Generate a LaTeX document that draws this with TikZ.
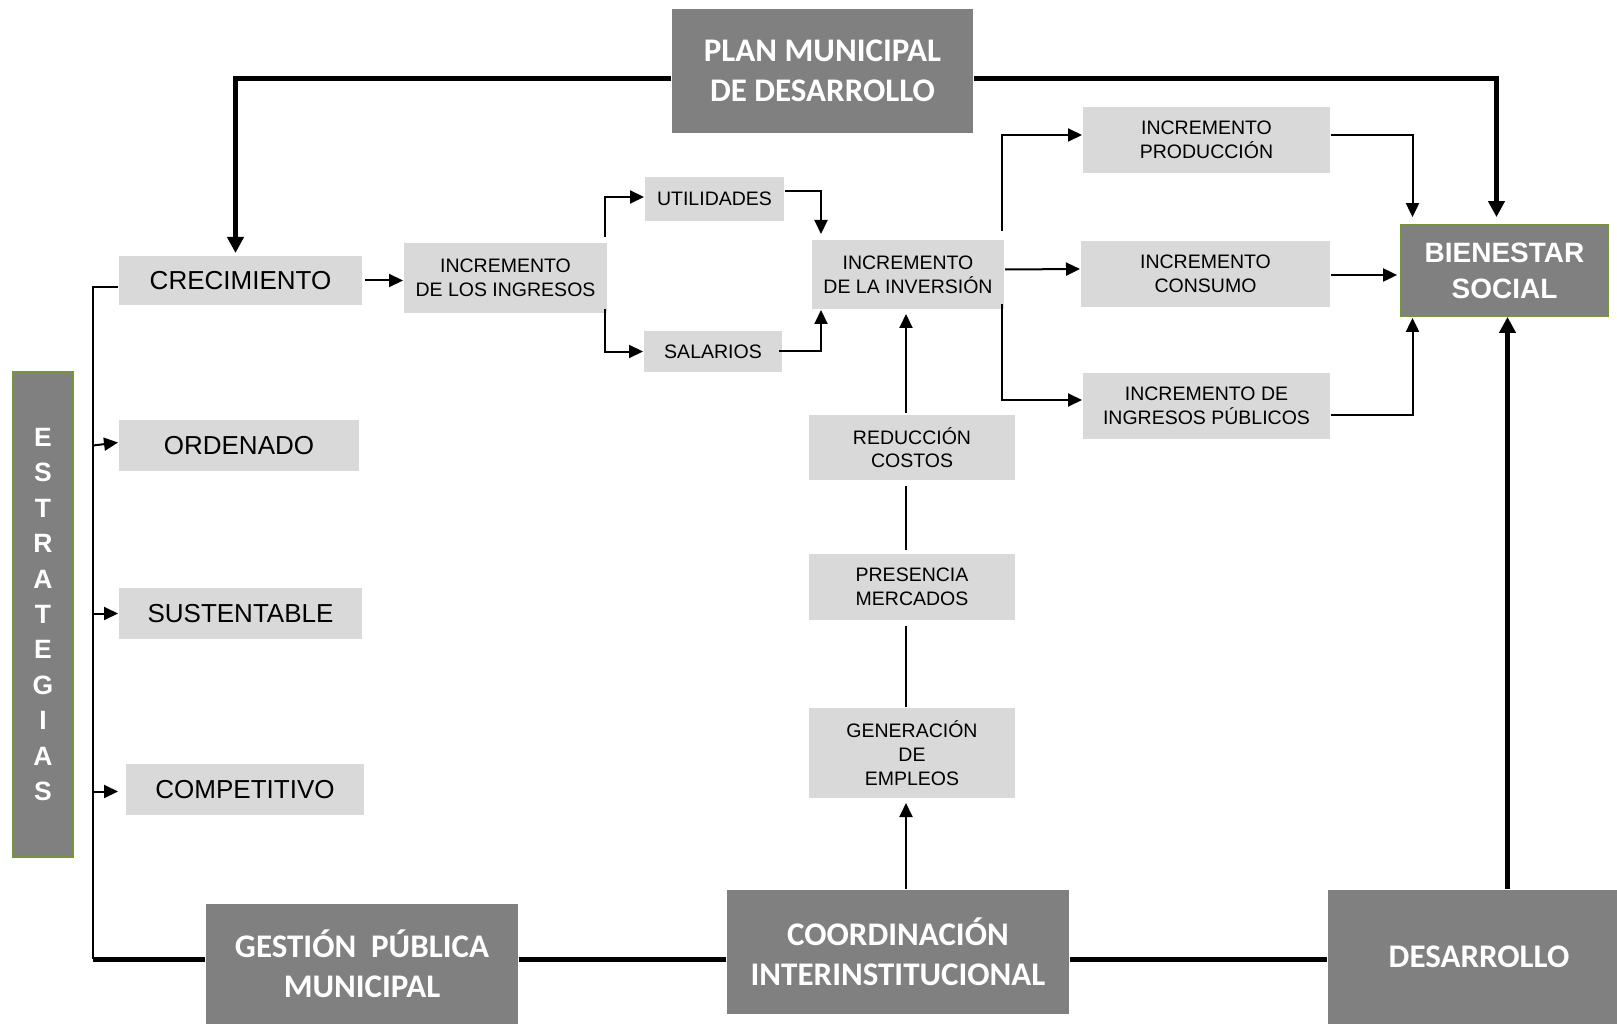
\documentclass[tikz,border=0pt]{standalone}
\usepackage{fontspec}
\setmainfont{Liberation Sans}
\newfontfamily\calibfont{Carlito}
\usepackage{xcolor}
\usepackage{tikz}
\usetikzlibrary{arrows.meta}
\usetikzlibrary{calc}
\usetikzlibrary{positioning}

\definecolor{boxgray}{HTML}{D9D9D9}
\definecolor{darkbox}{HTML}{808080}
\definecolor{olivegr}{HTML}{77933C}

\begin{document}
\begin{tikzpicture}[x=1pt,y=-1pt,>={Triangle[length=14pt,width=13pt]},line width=2pt]
 				 \tikzstyle{bigbox}=[fill=boxgray, inner sep=0pt, align=center, font=\fontsize{26}{31}\selectfont]
 				 \tikzstyle{smallbox}=[fill=boxgray, inner sep=0pt, align=center, font=\fontsize{19.5}{23.7}\selectfont]
 				 \tikzstyle{darkbox}=[fill=darkbox, inner sep=0pt, align=center, text=white, font=\calibfont\bfseries\fontsize{33}{40.5}\selectfont]
 				 \tikzstyle{greenbox}=[fill=darkbox, draw=olivegr, line width=1.8pt, inner sep=0pt, align=center, text=white]
 				 \tikzstyle{heavy}=[line width=5pt]
 				 \tikzstyle{heavyarr}=[line width=5pt, -{Triangle[length=16pt,width=16pt]}]
 					 \fill[white] (0,0) rectangle (1617,1024);
 					 \useasboundingbox (0,0) rectangle (1617,1024);
 					 % upper row
 					 \node[darkbox, minimum width=301pt, minimum height=124pt] (plan) at (822.5,71) {PLAN MUNICIPAL\\DE DESARROLLO};
 					 \node[bigbox, minimum width=243pt, minimum height=49pt] (crec) at (240.5,280.5) {CRECIMIENTO};
 					 \node[bigbox, minimum width=240pt, minimum height=51pt] (orden) at (239,445.5) {ORDENADO};
 					 \node[bigbox, minimum width=243pt, minimum height=51pt] (sust) at (240.5,613.5) {SUSTENTABLE};
 					 \node[bigbox, minimum width=238pt, minimum height=51pt] (comp) at (245,789.5) {COMPETITIVO};
 					 \node[smallbox, minimum width=203pt, minimum height=70pt] (ing) at (505.5,278) {INCREMENTO\\DE LOS INGRESOS};
 					 \node[smallbox, minimum width=139pt, minimum height=44pt] (util) at (714.5,199) {UTILIDADES};
 					 \node[smallbox, minimum width=138pt, minimum height=41pt] (sal) at (713,351.5) {SALARIOS};
 					 \node[smallbox, minimum width=192pt, minimum height=69pt] (inv) at (908,274.5) {INCREMENTO\\DE LA INVERSIÓN};
 					 \node[smallbox, minimum width=247pt, minimum height=66pt] (prod) at (1206.5,140) {INCREMENTO\\PRODUCCIÓN};
 					 \node[smallbox, minimum width=249pt, minimum height=66pt] (cons) at (1205.5,274) {INCREMENTO\\CONSUMO};
 					 \node[smallbox, minimum width=247pt, minimum height=66pt] (pub) at (1206.5,406) {INCREMENTO DE\\INGRESOS PÚBLICOS};
 					 \node[greenbox, minimum width=207pt, minimum height=91pt, font=\bfseries\fontsize{28}{36}\selectfont] (bien) at (1504.5,270.5) {BIENESTAR\\SOCIAL};
 					 % central column
 					 \node[smallbox, minimum width=206pt, minimum height=65pt] (red) at (912,447.5) {REDUCCIÓN\\COSTOS};
 					 \node[smallbox, minimum width=206pt, minimum height=66pt] (pres) at (912,587) {PRESENCIA\\MERCADOS};
 					 \node[smallbox, minimum width=206pt, minimum height=90pt] (gen) at (912,753) {GENERACIÓN\\DE\\EMPLEOS};
 					 \node[greenbox, minimum width=60pt, minimum height=485pt, font=\bfseries\fontsize{26.5}{35.4}\selectfont] (estr) at (43,614.5) {E\\S\\T\\R\\A\\T\\E\\G\\I\\A\\S};
 					 % lower row
 					 \node[darkbox, minimum width=312pt, minimum height=120pt] (gest) at (362,964) {GESTIÓN~ PÚBLICA\\MUNICIPAL};
 					 \node[darkbox, minimum width=342pt, minimum height=124pt] (coord) at (898,952) {COORDINACIÓN\\INTERINSTITUCIONAL};
 					 \node[darkbox, minimum width=302pt, minimum height=134pt] (des) at (1479,957) {DESARROLLO};
 					 \coordinate (ltop) at (93,287);
 					 \coordinate (lbot) at (93,959);
 					 \coordinate (bs) at ($(bien.south)+(3,0)$);
 					 % thick frame
 					 \draw[heavyarr, shorten >=2pt] ($(plan.west)+(0,8)$) -| ($(crec.north)+(-5,0)$);
 					 \draw[heavyarr, shorten >=7pt] ($(plan.east)+(0,8)$) -| ($(bien.north)+(-8,0)$);
 					 \draw[heavy] (lbot) -- (lbot -| gest.west)
 					 			(gest.east |- lbot) -- (lbot -| coord.west)
 					 			(coord.east |- lbot) -- (lbot -| des.west);
 					 \draw[heavyarr] (bs |- des.north) -- (bs);
 					 % strategies
 					 \draw (crec.west |- ltop) -- (ltop) -- (lbot);
 					 \path[->]
 					 			(ltop |- orden.west) edge ($(orden.west)+(0,-3)$)
 					 			(ltop |- sust.west) edge (sust.west)
 					 			($(ltop |- comp.west)+(0,2)$) edge[shorten >=7pt] ($(comp.west)+(0,2)$);
 					 % income and investment
 					 \draw[->, shorten <=2pt] (crec.east) -- (crec.east -| ing.west);
 					 \draw[->] ($(ing.north east)+(-3,-5)$) |- ($(util.west)+(0,-2)$);
 					 \draw[->] ($(ing.south east)+(-3,-5)$) |- (sal.west);
 					 \draw[->, shorten >=5pt] ($(util.east)+(0,-8)$) -| ($(inv.north)+(-87,0)$);
 					 \draw[->] ($(sal.east)+(-4,-1)$) -| ($(inv.south)+(-87,0)$);
 					 \draw[->] ($(inv.north east)+(-3,-8)$) |- ($(prod.west)+(0,-5)$);
 					 \draw[->] ($(inv.south east)+(-3,-6)$) |- ($(pub.west)+(0,-6)$);
 					 \draw[->] ($(inv.east)+(0,-5)$) -- ($(cons.west)+(0,-5)$);
 					 \draw[->, shorten >=7pt] ($(prod.east)+(0,-5)$) -| ($(bien.north)+(-92,0)$);
 					 \draw[->, shorten >=3pt] ($(cons.east)+(0,1)$) -- ($(cons.east -| bien.west)+(0,1)$);
 					 \draw[->, shorten >=1pt] ($(pub.east)+(0,9)$) -| ($(bien.south)+(-92,0)$);
 					 % central column
 					 \draw[->, shorten >=4pt, shorten <=1pt] ($(inv.south |- red.north)+(-2,0)$) -- ($(inv.south)+(-2,0)$);
 					 \draw[shorten >=3pt, shorten <=5pt] ($(inv.south |- red.south)+(-2,0)$) -- ($(inv.south |- pres.north)+(-2,0)$);
 					 \draw[shorten >=0pt, shorten <=5pt] ($(inv.south |- pres.south)+(-2,0)$) -- ($(inv.south |- gen.north)+(-2,0)$);
 					 \draw[->, shorten >=4pt] ($(inv.south |- coord.north)+(-2,0)$) -- ($(inv.south |- gen.south)+(-2,0)$);
				\end{tikzpicture}
\end{document}
